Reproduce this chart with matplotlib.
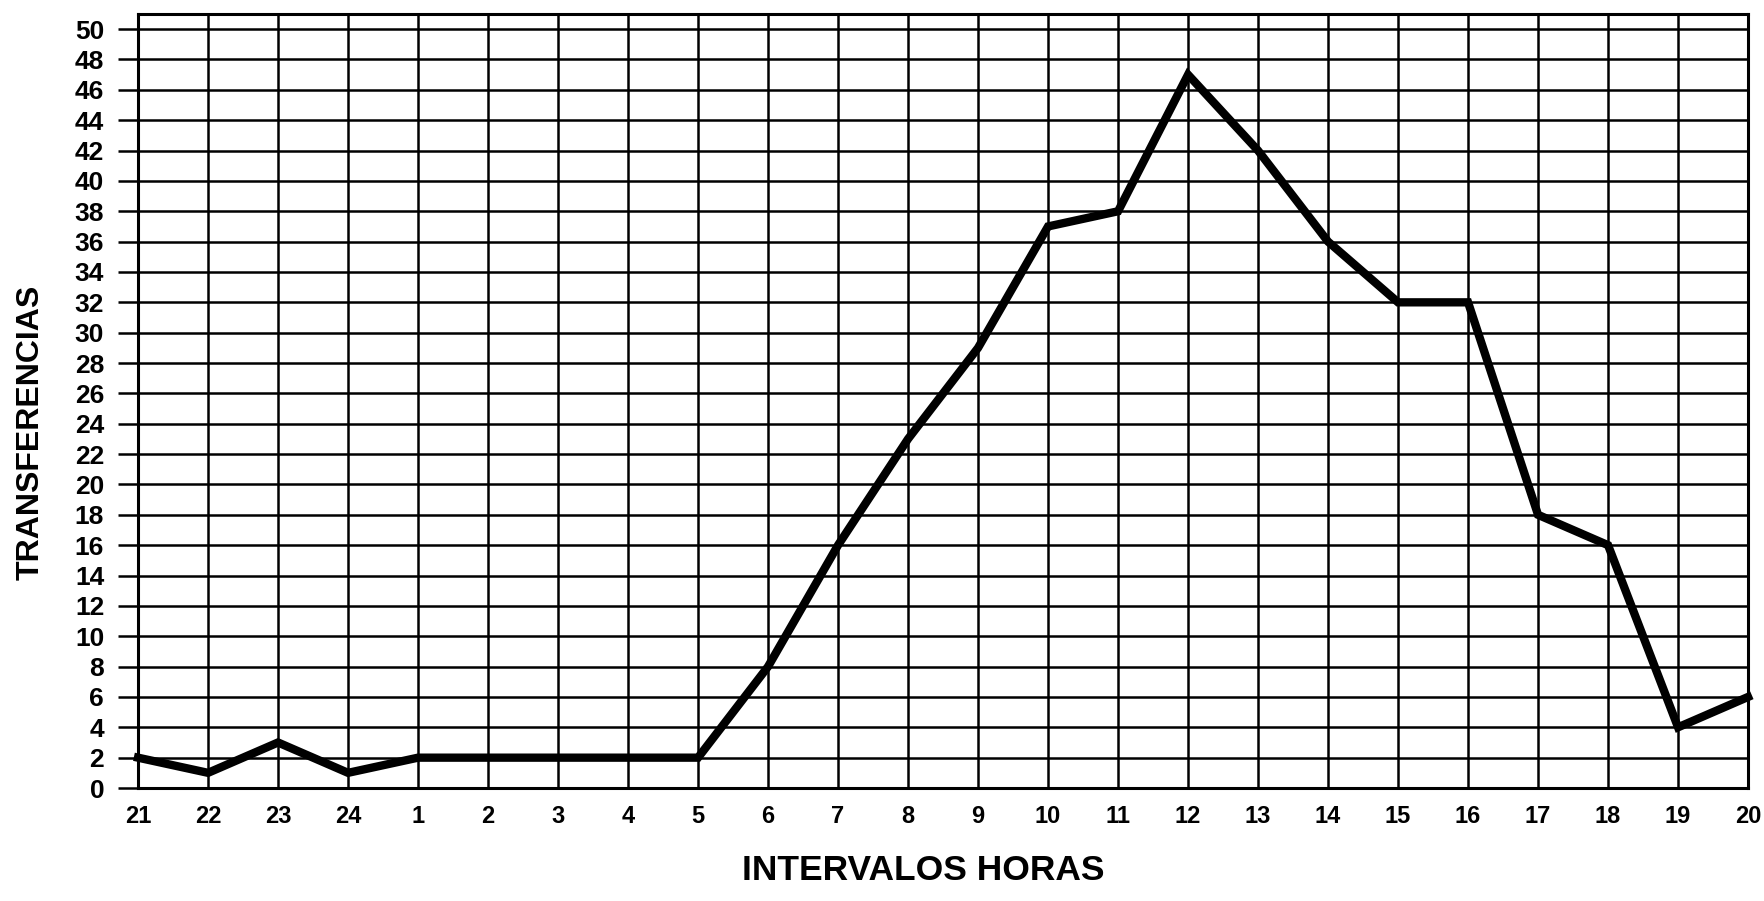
import matplotlib.pyplot as plt

# Hourly intervals, starting at 21h and wrapping round to 20h
horas = ['21', '22', '23', '24', '1', '2', '3', '4', '5', '6', '7', '8',
         '9', '10', '11', '12', '13', '14', '15', '16', '17', '18', '19', '20']
transferencias = [2, 1, 3, 1, 2, 2, 2, 2, 2, 8, 16, 23,
                  29, 37, 38, 47, 42, 36, 32, 32, 18, 16, 4, 6]
y_ticks = list(range(0, 51, 2))

plt.rcParams['font.family'] = ['Liberation Sans', 'DejaVu Sans']

fig = plt.figure(figsize=(17.65, 9.01), dpi=100)
ax = fig.add_axes([0.0782, 0.1254, 0.9122, 0.8591])

x = list(range(len(horas)))
ax.plot(x, transferencias, color='black', linewidth=6, solid_joinstyle='miter',
        zorder=3, clip_on=False)

ax.set_xlim(0, len(horas) - 1)
ax.set_ylim(0, 51)
ax.set_xticks(x)
ax.set_xticklabels(horas, fontsize=17, fontweight='bold')
ax.set_yticks(y_ticks)
ax.set_yticklabels([str(v) for v in y_ticks], fontsize=19, fontweight='bold')

ax.tick_params(axis='x', length=0, pad=12)
ax.tick_params(axis='y', length=14.4, width=1.8, pad=10)
ax.grid(True, color='black', linewidth=1.8)
ax.set_axisbelow(True)
for s in ax.spines.values():
    s.set_linewidth(2.2)

ax.set_ylabel('TRANSFERENCIAS', fontsize=23, fontweight='bold', va='center')
ax.yaxis.set_label_coords(-0.067, 0.46)
ax.set_xlabel('INTERVALOS HORAS', fontsize=25.5, fontweight='bold', va='center')
ax.xaxis.set_label_coords(0.488, -0.106)

fig.savefig('out.png', dpi=100)
